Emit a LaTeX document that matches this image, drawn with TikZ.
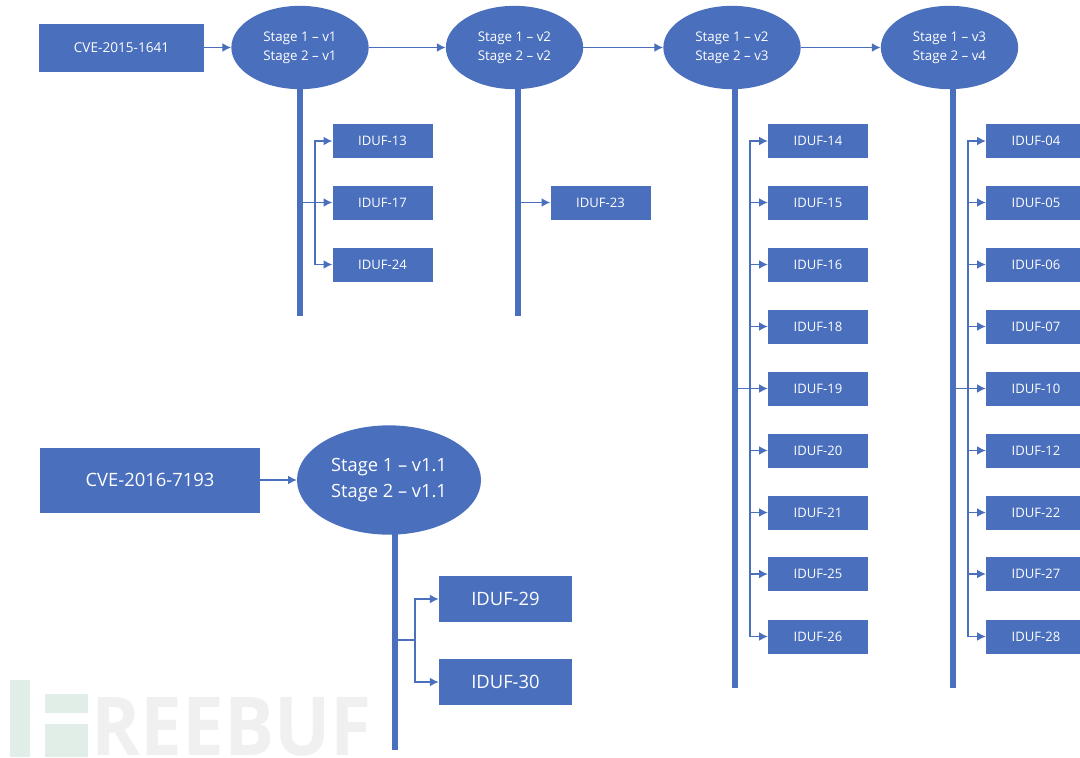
\documentclass[tikz,border=0pt]{standalone}
\usepackage{fontspec}
\setmainfont{Open Sans}
\usetikzlibrary{shapes.geometric, arrows.meta}
\definecolor{one}{HTML}{4A6FBD}
\definecolor{two}{HTML}{F0F0F0}
\definecolor{three}{HTML}{E1EEE8}
\tikzset{
  smallbox/.style={fill=one, text=white, minimum width=75pt, minimum height=25.5pt, inner sep=0pt, font=\fontsize{9.8}{11}\selectfont},
  cvebox/.style={fill=one, text=white, inner sep=0pt, font=\fontsize{10.2}{11}\selectfont},
  stage/.style={ellipse, fill=one, text=white, align=center, inner sep=0pt, minimum width=103pt, minimum height=62.5pt, font=\fontsize{10}{14}\selectfont},
  bigbox/.style={fill=one, text=white, minimum width=100pt, minimum height=34.5pt, inner sep=0pt, font=\fontsize{13.8}{15}\selectfont},
  bar/.style={one, line width=4.5pt},
  link/.style={one, line width=0.8pt, -{Latex[length=6.5pt, width=6.5pt]}}
}
\begin{document}
\begin{tikzpicture}[x=0.75pt, y=-0.75pt]
\useasboundingbox (0,0) rectangle (1080,757);
\clip (0,0) rectangle (1080,757);

% watermark
\fill[three] (10,680) rectangle (30,757);
\fill[three] (45,694) rectangle (88,713);
\fill[three] (45,724) rectangle (88,757);
\node[text=two, font=\fontsize{61}{61}\selectfont\bfseries, anchor=base west, inner sep=0pt] (W) at (91,755) {\scalebox{0.917}[1]{REEBUF}};

\draw[solid]

(121.5,47.5) node[cvebox, minimum width=123.75pt, minimum height=36pt] (A) {CVE-2015-1641}
(300,47.5) node[stage] (S1) {Stage 1 – v1\\Stage 2 – v1}
(514.5,47.5) node[stage] (S2) {Stage 1 – v2\\Stage 2 – v2}
(732,47.5) node[stage] (S3) {Stage 1 – v2\\Stage 2 – v3}
(949.5,47.5) node[stage] (S4) {Stage 1 – v3\\Stage 2 – v4}

(382.5,141) node[smallbox] (I13) {IDUF-13}
(382.5,202.5) node[smallbox] (I17) {IDUF-17}
(382.5,264.5) node[smallbox] (I24) {IDUF-24}

(600.5,202.5) node[smallbox] (I23) {IDUF-23}

(818,141) node[smallbox] (I14) {IDUF-14}
(818,202.5) node[smallbox] (I15) {IDUF-15}
(818,264.5) node[smallbox] (I16) {IDUF-16}
(818,326.5) node[smallbox] (I18) {IDUF-18}
(818,388.5) node[smallbox] (I19) {IDUF-19}
(818,450.5) node[smallbox] (I20) {IDUF-20}
(818,512.5) node[smallbox] (I21) {IDUF-21}
(818,574) node[smallbox] (I25) {IDUF-25}
(818,636.5) node[smallbox] (I26) {IDUF-26}

(1036,141) node[smallbox] (I04) {IDUF-04}
(1036,202.5) node[smallbox] (I05) {IDUF-05}
(1036,264.5) node[smallbox] (I06) {IDUF-06}
(1036,326.5) node[smallbox] (I07) {IDUF-07}
(1036,388.5) node[smallbox] (I10) {IDUF-10}
(1036,450.5) node[smallbox] (I12) {IDUF-12}
(1036,512.5) node[smallbox] (I22) {IDUF-22}
(1036,574) node[smallbox] (I27) {IDUF-27}
(1036,636.5) node[smallbox] (I28) {IDUF-28}

(150,480) node[cvebox, minimum width=165pt, minimum height=48.75pt, font=\fontsize{13.8}{15}\selectfont] (B) {CVE-2016-7193}
(389,480) node[stage, minimum width=138pt, minimum height=82pt, font=\fontsize{13.7}{19}\selectfont] (S5) {Stage 1 – v1.1\\Stage 2 – v1.1}
(505.5,599) node[bigbox] (I29) {IDUF-29}
(505.5,682) node[bigbox] (I30) {IDUF-30};

\coordinate (E1) at (300,316);
\coordinate (E2) at (518,316);
\coordinate (E3) at (735,688);
\coordinate (E4) at (953,688);
\coordinate (E5) at (395,750);
\coordinate (T1) at (300,88);
\coordinate (T2) at (518,88);
\coordinate (T3) at (735,88);
\coordinate (T4) at (953,88);
\coordinate (T5) at (395,534);

\coordinate (J1) at (315,202.5);
\coordinate (J3) at (750,388.5);
\coordinate (J4) at (968,388.5);
\coordinate (J5) at (415,640);
\coordinate (K1) at (300,202.5);
\coordinate (K2) at (518,202.5);
\coordinate (K3) at (735,388.5);
\coordinate (K4) at (953,388.5);
\coordinate (K5) at (395,640);

% stems
\draw[bar] (T1) -- (E1);
\draw[bar] (T2) -- (E2);
\draw[bar] (T3) -- (E3);
\draw[bar] (T4) -- (E4);
\draw[bar] (T5) -- (E5);

% top row
\draw[link] (A) -- (S1);
\draw[link] (S1) -- (S2);
\draw[link] (S2) -- (S3);
\draw[link] (S3) -- (S4);
\draw[link] (B) -- (S5);

% branches
\draw[link] (K1) -- (I17);
\draw[link, to path={|- (\tikztotarget)}] (J1) to (I13);
\draw[link, to path={|- (\tikztotarget)}] (J1) to (I24);
\draw[link] (K2) -- (I23);

\draw[link] (K3) -- (I19);
\draw[link, to path={|- (\tikztotarget)}] (J3) to (I14);
\draw[link, to path={|- (\tikztotarget)}] (J3) to (I15);
\draw[link, to path={|- (\tikztotarget)}] (J3) to (I16);
\draw[link, to path={|- (\tikztotarget)}] (J3) to (I18);
\draw[link, to path={|- (\tikztotarget)}] (J3) to (I20);
\draw[link, to path={|- (\tikztotarget)}] (J3) to (I21);
\draw[link, to path={|- (\tikztotarget)}] (J3) to (I25);
\draw[link, to path={|- (\tikztotarget)}] (J3) to (I26);

\draw[link] (K4) -- (I10);
\draw[link, to path={|- (\tikztotarget)}] (J4) to (I04);
\draw[link, to path={|- (\tikztotarget)}] (J4) to (I05);
\draw[link, to path={|- (\tikztotarget)}] (J4) to (I06);
\draw[link, to path={|- (\tikztotarget)}] (J4) to (I07);
\draw[link, to path={|- (\tikztotarget)}] (J4) to (I12);
\draw[link, to path={|- (\tikztotarget)}] (J4) to (I22);
\draw[link, to path={|- (\tikztotarget)}] (J4) to (I27);
\draw[link, to path={|- (\tikztotarget)}] (J4) to (I28);

\draw[one, line width=0.8pt] (K5) -- (J5);
\draw[link, to path={|- (\tikztotarget)}] (J5) to (I29);
\draw[link, to path={|- (\tikztotarget)}] (J5) to (I30);
\end{tikzpicture}
\end{document}
